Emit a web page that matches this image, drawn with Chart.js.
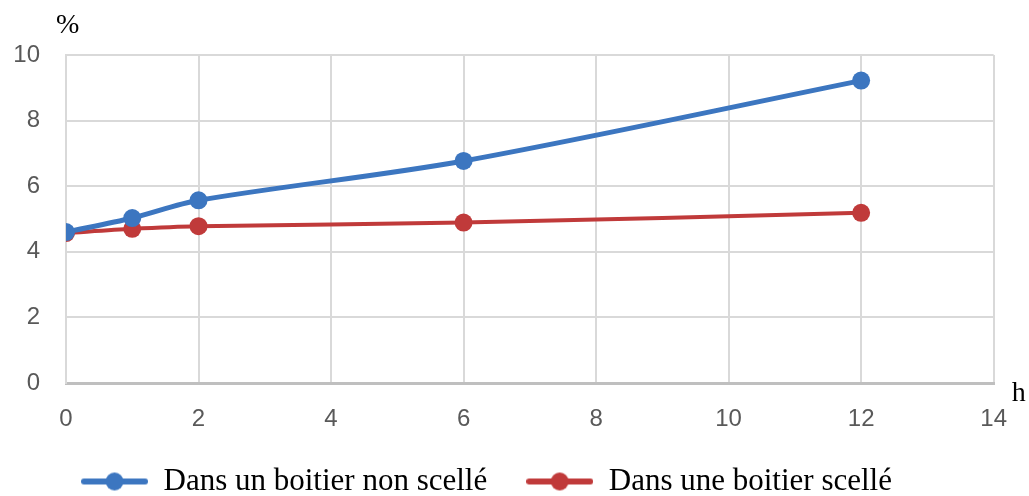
<!DOCTYPE html>
<html>
<head>
<meta charset="utf-8">
<script src="https://cdn.jsdelivr.net/npm/chart.js@4"></script>
<style>
  html, body { margin: 0; padding: 0; background: #fff; }
  #wrap { width: 1029px; height: 496px; }
</style>
</head>
<body>
<div id="wrap"><canvas id="chart" width="1029" height="496"></canvas></div>
<script>
// data
const hours = [0, 1, 2, 6, 12];
const nonSealed = [4.6, 5.03, 5.57, 6.77, 9.22];
const sealed = [4.57, 4.7, 4.78, 4.89, 5.19];
const seriesNames = ["Dans un boitier non scellé", "Dans une boitier scellé"];
const blue = "#3c76c0";
const red = "#c03a3a";

// legend marker: a thick line with a dot on it
function marker(color) {
  const c = document.createElement("canvas");
  c.width = 67; c.height = 20;
  const g = c.getContext("2d");
  g.strokeStyle = color;
  g.lineWidth = 6;
  g.lineCap = "round";
  g.beginPath(); g.moveTo(3, 10); g.lineTo(64, 10); g.stroke();
  g.fillStyle = color;
  g.beginPath(); g.arc(33.5, 10, 9, 0, Math.PI * 2); g.fill();
  return c;
}

// "%" and "h" axis captions, plus nudge the legend a bit left
const captions = {
  id: "captions",
  afterLayout(chart) {
    chart.legend.right -= 22;
  },
  afterDraw(chart) {
    const ctx = chart.ctx;
    const a = chart.chartArea;
    ctx.save();
    ctx.fillStyle = "#000";
    ctx.font = "28px 'Liberation Serif'";
    ctx.textBaseline = "middle";
    ctx.textAlign = "left";
    ctx.fillText("%", a.left - 10, 26);
    ctx.fillText("h", a.right + 18, a.bottom + 11);
    ctx.restore();
  }
};

const toXY = (ys) => hours.map((h, i) => ({ x: h, y: ys[i] }));

new Chart(document.getElementById("chart"), {
  type: "line",
  data: {
    datasets: [
      {
        label: seriesNames[0],
        data: toXY(nonSealed),
        borderColor: blue,
        backgroundColor: blue,
        borderWidth: 5,
        pointRadius: 9,
        pointHoverRadius: 9,
        pointBorderWidth: 0,
        tension: 0.3
      },
      {
        label: seriesNames[1],
        data: toXY(sealed),
        borderColor: red,
        backgroundColor: red,
        borderWidth: 4,
        pointRadius: 9,
        pointHoverRadius: 9,
        pointBorderWidth: 0,
        tension: 0.3
      }
    ]
  },
  plugins: [captions],
  options: {
    responsive: false,
    animation: false,
    layout: { padding: { left: 0, right: 34, top: 55, bottom: 0 } },
    plugins: {
      tooltip: { enabled: false },
      legend: {
        position: "bottom",
        maxHeight: 69,
        labels: {
          usePointStyle: true,
          pointStyleWidth: 67,
          boxHeight: 20,
          padding: 39,
          color: "#000",
          font: { family: "'Liberation Serif'", size: 31 },
          generateLabels: (chart) => chart.data.datasets.map((ds, i) => ({
            text: ds.label,
            pointStyle: marker(ds.borderColor),
            fillStyle: ds.borderColor,
            strokeStyle: ds.borderColor,
            lineWidth: 0,
            datasetIndex: i,
            hidden: false
          }))
        }
      }
    },
    scales: {
      x: {
        type: "linear",
        min: 0,
        max: 14,
        ticks: {
          stepSize: 2,
          padding: 22,
          color: "#595959",
          font: { family: "'Liberation Sans'", size: 24 }
        },
        grid: { color: "#d9d9d9", lineWidth: 2, drawTicks: false },
        border: { color: "#bfbfbf", width: 3 },
        afterFit: (s) => { s.height = 44; }
      },
      y: {
        min: 0,
        max: 10,
        ticks: {
          stepSize: 2,
          padding: 26,
          color: "#595959",
          font: { family: "'Liberation Sans'", size: 24 }
        },
        grid: { color: "#d9d9d9", lineWidth: 2, drawTicks: false },
        border: { color: "#d9d9d9", width: 2 },
        afterFit: (s) => { s.width = 66; }
      }
    }
  }
});
</script>
</body>
</html>
